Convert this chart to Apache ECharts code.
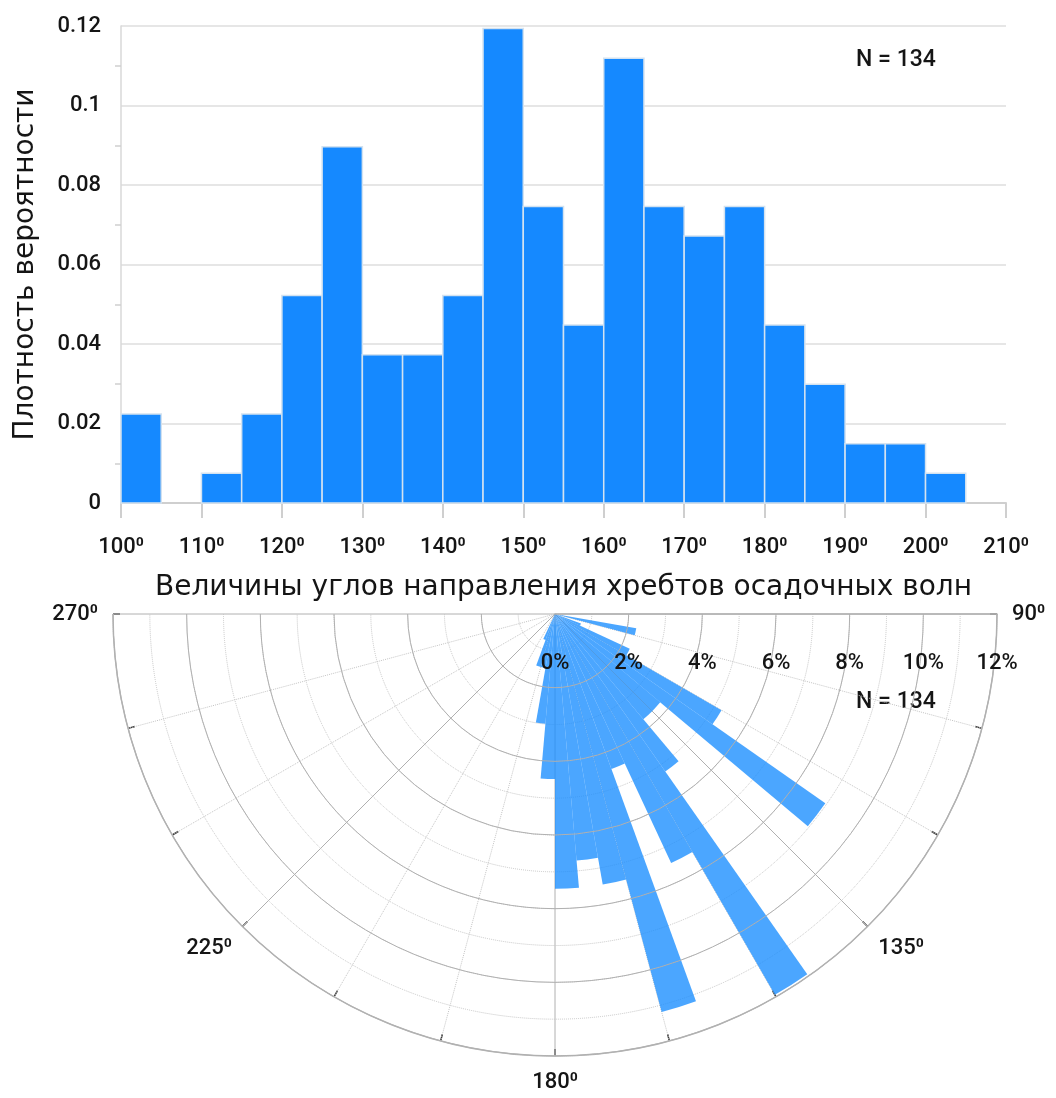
<!DOCTYPE html>
<html lang="ru">
<head>
<meta charset="UTF-8">
<title>Углы направления хребтов осадочных волн</title>
<script src="https://cdn.jsdelivr.net/npm/echarts@6/dist/echarts.min.js"></script>
<style>
    html, body { margin: 0; padding: 0; background: #fff; }
    #main { width: 1056px; height: 1098px; }
</style>
</head>
<body>
<div id="main"></div>
<script type="text/javascript">
    // начало каждого бина, шаг 5 градусов
    var binStarts = [100, 105, 110, 115, 120, 125, 130, 135, 140, 145, 150,
                     155, 160, 165, 170, 175, 180, 185, 190, 195, 200];
    var binWidth = 5;
    // плотность вероятности по бинам (гистограмма)
    var density = [0.0224, 0, 0.0075, 0.0224, 0.0522, 0.0896, 0.0373, 0.0373, 0.0522, 0.1194, 0.0746,
                   0.0448, 0.1119, 0.0746, 0.0672, 0.0746, 0.0448, 0.0299, 0.0149, 0.0149, 0.0075];
    // те же бины в процентах (роза-диаграмма)
    var rosePercent = [2.24, 0, 0.75, 2.24, 5.22, 8.96, 3.73, 3.73, 5.22, 11.94, 7.46,
                       4.48, 11.19, 7.46, 6.72, 7.46, 4.48, 2.99, 1.49, 1.49, 0.75];
    // секторы розы от 90 до 270 градусов
    var roseSectors = ['90', '95', '100', '105', '110', '115', '120', '125', '130', '135', '140', '145',
                       '150', '155', '160', '165', '170', '175', '180', '185', '190', '195', '200', '205',
                       '210', '215', '220', '225', '230', '235', '240', '245', '250', '255', '260', '265'];
    var N = 134;

    var fontNum = 'Roboto';
    var fontText = 'DejaVu Sans';
    var textColor = '#151515';

    var histData = binStarts.map(function (b, i) {
        return [b, b + binWidth, density[i]];
    });
    var roseData = roseSectors.map(function (s) {
        var i = binStarts.indexOf(+s);
        return i >= 0 ? rosePercent[i] : 0;
    });

    var myChart = echarts.init(document.getElementById('main'));

    var option = {
        animation: false,
        grid: {
            left: 121,
            right: 50,
            top: 26,
            height: 477
        },
        xAxis: {
            type: 'value',
            min: 100,
            max: 210,
            interval: 10,
            name: 'Величины углов направления хребтов осадочных волн',
            nameLocation: 'middle',
            nameGap: 71,
            nameTextStyle: {fontFamily: fontText, fontSize: 28, color: textColor},
            axisLine: {lineStyle: {color: '#cfcfcf', width: 2}},
            axisTick: {show: true, length: 15, lineStyle: {color: '#cfcfcf', width: 2}},
            axisLabel: {
                formatter: '{value}⁰',
                margin: 33,
                fontFamily: fontNum, fontSize: 22, fontWeight: 500, color: textColor
            },
            splitLine: {show: false}
        },
        yAxis: {
            type: 'value',
            min: 0,
            max: 0.12,
            interval: 0.02,
            name: 'Плотность вероятности',
            nameLocation: 'middle',
            nameGap: 81,
            nameTextStyle: {fontFamily: fontText, fontSize: 28, color: textColor},
            axisLine: {show: true, lineStyle: {color: '#d8d8d8', width: 1.5}},
            axisTick: {show: false},
            minorTick: {show: true, splitNumber: 2, length: 6, lineStyle: {color: '#cfcfcf', width: 1.5}},
            axisLabel: {margin: 20, fontFamily: fontNum, fontSize: 22, fontWeight: 500, color: textColor},
            splitLine: {show: true, lineStyle: {color: '#dedede', width: 1.5}}
        },
        polar: [
            {center: [555, 614], radius: 442},
            {center: [555, 614], radius: 442}
        ],
        angleAxis: [
            {
                polarIndex: 0,
                type: 'value',
                min: 90,
                max: 270,
                interval: 45,
                startAngle: 0,
                endAngle: -180,
                clockwise: true,
                axisLine: {show: true, lineStyle: {color: '#b0b0b0', width: 1.5}},
                axisTick: {show: true, inside: true, length: 7, lineStyle: {color: '#333', width: 1.5}},
                minorTick: {show: true, splitNumber: 3, length: 7, lineStyle: {color: '#333', width: 1.5}},
                splitLine: {show: true, lineStyle: {color: '#b0b0b0', width: 1}},
                minorSplitLine: {show: true, lineStyle: {color: '#c4c4c4', width: 1, type: 'dotted'}},
                axisLabel: {
                    formatter: '{value}⁰',
                    margin: 15,
                    fontFamily: fontNum, fontSize: 22, fontWeight: 500, color: textColor
                }
            },
            {
                polarIndex: 1,
                type: 'category',
                data: roseSectors,
                startAngle: 0,
                endAngle: -180,
                clockwise: true,
                show: false
            }
        ],
        radiusAxis: [
            {
                // сплошные окружности через 2%
                polarIndex: 0,
                type: 'value',
                min: 0,
                max: 12,
                interval: 2,
                z: 3,
                axisLine: {show: true, lineStyle: {color: '#b0b0b0', width: 1.5}},
                axisTick: {show: false},
                splitLine: {show: true, lineStyle: {color: '#b0b0b0', width: 1}},
                axisLabel: {
                    formatter: '{value}%',
                    margin: -49,
                    verticalAlign: 'middle',
                    fontFamily: fontNum, fontSize: 22, fontWeight: 500, color: textColor
                }
            },
            {
                // пунктирные окружности через 1%
                polarIndex: 1,
                type: 'value',
                min: 0,
                max: 12,
                interval: 1,
                z: 1,
                axisLine: {show: false},
                axisTick: {show: false},
                axisLabel: {show: false},
                splitLine: {show: true, lineStyle: {color: '#c4c4c4', width: 1, type: 'dotted'}}
            }
        ],
        graphic: [
            {
                type: 'text', left: 856, top: 49,
                style: {text: 'N = ' + N, fontFamily: fontNum, fontSize: 23, fontWeight: 500, fill: textColor}
            },
            {
                type: 'text', left: 856, top: 691,
                style: {text: 'N = ' + N, fontFamily: fontNum, fontSize: 23, fontWeight: 500, fill: textColor}
            }
        ],
        series: [
            {
                type: 'custom',
                xAxisIndex: 0,
                yAxisIndex: 0,
                data: histData,
                encode: {x: [0, 1], y: 2},
                renderItem: function (params, api) {
                    var v = api.value(2);
                    if (!v) return null;
                    var p0 = api.coord([api.value(0), v]);
                    var p1 = api.coord([api.value(1), 0]);
                    return {
                        type: 'rect',
                        shape: {x: p0[0], y: p0[1], width: p1[0] - p0[0], height: p1[1] - p0[1]},
                        style: {fill: '#1589ff', stroke: '#d3e2f0', lineWidth: 1.5}
                    };
                }
            },
            {
                type: 'bar',
                coordinateSystem: 'polar',
                polarIndex: 1,
                barCategoryGap: '0%',
                data: roseData,
                itemStyle: {color: 'rgba(30, 144, 255, 0.8)'}
            }
        ]
    };

    myChart.setOption(option);
</script>
</body>
</html>
